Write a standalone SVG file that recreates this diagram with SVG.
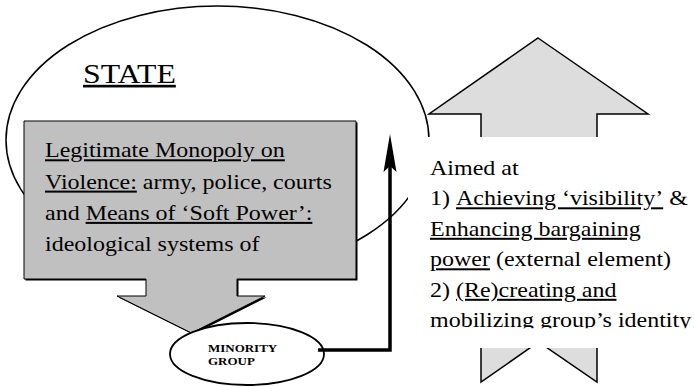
<svg xmlns="http://www.w3.org/2000/svg" width="694" height="387" viewBox="0 0 694 387">
<defs>
<style>
.serif{font-family:'Liberation Serif','Times New Roman',serif;fill:#000}
.t20{font-size:20px}
.u{text-decoration:underline;text-underline-offset:3px}
.line{fill:none;stroke:#000}
</style>
<clipPath id="aimsClip"><rect x="408" y="137" width="290" height="191.3"/></clipPath>
<marker id="head" markerUnits="userSpaceOnUse" markerWidth="39" markerHeight="14" viewBox="0 -7 39 14" refX="6" refY="0" orient="auto">
<path d="M38,0 L0,-6.5 L6,0 L0,6.5 Z" fill="#000"/>
</marker>
</defs>
<rect x="0" y="0" width="694" height="387" fill="#fff"/>

<g id="state">
<ellipse cx="217.5" cy="140" rx="211.5" ry="134" fill="#fff" stroke="#000" stroke-width="1.5"/>
<text class="serif u" transform="translate(83,0) scale(1.2,1)" font-size="26.5"><tspan x="0" y="83">STATE</tspan></text>
</g>

<g id="aims">
<polygon points="538,38 648,114 597,114 597,382 538.5,342 481,382 481,114 429,114" fill="#ddd" stroke="#000" stroke-width="1.5" stroke-linejoin="miter"/>
<rect x="408" y="137" width="290" height="211" fill="#fff"/>
<g clip-path="url(#aimsClip)">
<text class="serif t20" transform="translate(430,0) scale(1.2,1)">
<tspan x="0" y="175">Aimed at</tspan>
<tspan x="0" y="205.5">1) <tspan class="u">Achieving ‘visibility’</tspan> &amp;</tspan>
<tspan x="0" y="236" class="u">Enhancing bargaining</tspan>
<tspan x="0" y="266.5"><tspan class="u">power</tspan> (external element)</tspan>
<tspan x="0" y="297">2) <tspan class="u">(Re)creating and</tspan></tspan>
<tspan x="0" y="327.3" class="u">mobilizing group’s identity</tspan>
</text>
</g>
</g>

<g id="coercion">
<polygon points="24,121 356,121 356,279 237,279 237,296 265,296 191.5,333 117,296 146,296 146,279 24,279" transform="translate(1.5,1.5)" fill="#000"/>
<polygon points="24,121 356,121 356,279 237,279 237,296 265,296 191.5,333 117,296 146,296 146,279 24,279" fill="#c0c0c0" stroke="#000" stroke-width="1"/>
<text class="serif t20" transform="translate(45,0) scale(1.2,1)">
<tspan x="0" y="157.5" class="u">Legitimate Monopoly on</tspan>
<tspan x="0" y="188.8"><tspan class="u">Violence:</tspan> army, police, courts</tspan>
<tspan x="0" y="220.1">and <tspan class="u">Means of ‘Soft Power’:</tspan></tspan>
<tspan x="0" y="251.4">ideological systems of</tspan>
</text>
</g>

<g id="minority">
<ellipse cx="247" cy="354" rx="77" ry="31" fill="#fff" stroke="#000" stroke-width="1.8"/>
<text class="serif" transform="translate(208,0) scale(1.18,1)" font-size="11" font-weight="bold"><tspan x="0" y="352">MINORITY</tspan><tspan x="0" y="365">GROUP</tspan></text>
</g>

<g id="connectors">
<path class="line" d="M318,350 H390 V166" stroke-width="3.5" marker-end="url(#head)"/>
</g>
</svg>
